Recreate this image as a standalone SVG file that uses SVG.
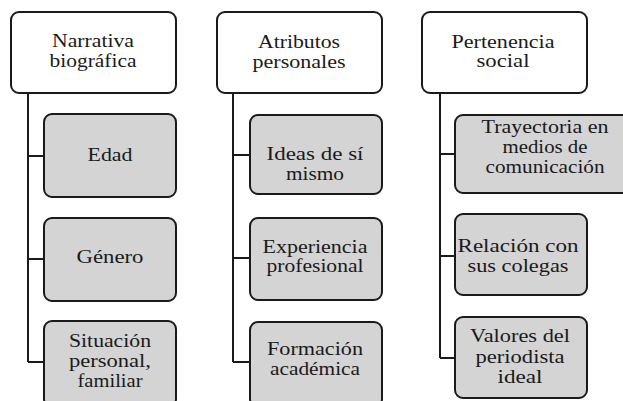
<svg xmlns="http://www.w3.org/2000/svg" width="623" height="401" viewBox="0 0 623 401" font-family="Liberation Serif, Times New Roman, Times, serif">
<style>
.hdr{fill:#ffffff;stroke:#1a1a1a;stroke-width:2}
.sub{fill:#d4d4d4;stroke:#1a1a1a;stroke-width:2}
.t{font-family:"Liberation Serif","Times New Roman",Times,serif;font-size:19px;fill:#1a1a1a;text-anchor:middle}
.c{fill:none;stroke:#1a1a1a;stroke-width:2}
</style>
<rect width="623" height="401" fill="#ffffff"/>
<g id="connectors">
<path class="c" d="M28,93 V362 M28,156 H44 M28,259 H44 M28,362 H44"/>
<path class="c" d="M233,93 V362 M233,155 H250 M233,258 H250 M233,362 H250"/>
<path class="c" d="M440,93 V358 M440,154 H455 M440,256 H455 M440,358 H455"/>
</g>
<g id="narrativa">
<rect class="hdr" x="11" y="12" width="165" height="81" rx="8"/>
<text class="t" font-family="Liberation Serif, Times New Roman, serif" x="93" y="47" textLength="82" lengthAdjust="spacingAndGlyphs">Narrativa</text>
<text class="t" x="93" y="67" textLength="87" lengthAdjust="spacingAndGlyphs">biográfica</text>
</g>
<g id="edad">
<rect class="sub" x="44" y="114" width="132" height="83" rx="8"/>
<text class="t" x="110" y="161" textLength="45" lengthAdjust="spacingAndGlyphs">Edad</text>
</g>
<g id="genero">
<rect class="sub" x="44" y="218" width="132" height="83" rx="8"/>
<text class="t" x="110" y="263" textLength="67" lengthAdjust="spacingAndGlyphs">Género</text>
</g>
<g id="situacion">
<rect class="sub" x="44" y="321" width="132" height="86" rx="8"/>
<text class="t" x="110" y="347" textLength="82" lengthAdjust="spacingAndGlyphs">Situación</text>
<text class="t" x="110" y="367" textLength="82" lengthAdjust="spacingAndGlyphs">personal,</text>
<text class="t" x="110" y="387" textLength="65" lengthAdjust="spacingAndGlyphs">familiar</text>
</g>
<g id="atributos">
<rect class="hdr" x="217" y="12" width="165" height="81" rx="8"/>
<text class="t" x="299" y="48" textLength="82" lengthAdjust="spacingAndGlyphs">Atributos</text>
<text class="t" x="299" y="68" textLength="93" lengthAdjust="spacingAndGlyphs">personales</text>
</g>
<g id="ideas">
<rect class="sub" x="250" y="115" width="132" height="79" rx="8"/>
<text class="t" x="315" y="160" textLength="97" lengthAdjust="spacingAndGlyphs">Ideas de sí</text>
<text class="t" x="315" y="180" textLength="58" lengthAdjust="spacingAndGlyphs">mismo</text>
</g>
<g id="experiencia">
<rect class="sub" x="250" y="218" width="132" height="82" rx="8"/>
<text class="t" x="315" y="253" textLength="105" lengthAdjust="spacingAndGlyphs">Experiencia</text>
<text class="t" x="315" y="272" textLength="97" lengthAdjust="spacingAndGlyphs">profesional</text>
</g>
<g id="formacion">
<rect class="sub" x="250" y="322" width="132" height="85" rx="8"/>
<text class="t" x="315" y="355" textLength="96" lengthAdjust="spacingAndGlyphs">Formación</text>
<text class="t" x="315" y="375" textLength="90" lengthAdjust="spacingAndGlyphs">académica</text>
</g>
<g id="pertenencia">
<rect class="hdr" x="422" y="12" width="165" height="81" rx="8"/>
<text class="t" x="503" y="48" textLength="103" lengthAdjust="spacingAndGlyphs">Pertenencia</text>
<text class="t" x="503" y="67" textLength="53" lengthAdjust="spacingAndGlyphs">social</text>
</g>
<g id="trayectoria">
<rect class="sub" x="455" y="115" width="180" height="78" rx="8"/>
<text class="t" x="545" y="133" textLength="127" lengthAdjust="spacingAndGlyphs">Trayectoria en</text>
<text class="t" x="545" y="153" textLength="85" lengthAdjust="spacingAndGlyphs">medios de</text>
<text class="t" x="545" y="173" textLength="119" lengthAdjust="spacingAndGlyphs">comunicación</text>
</g>
<g id="relacion">
<rect class="sub" x="455" y="214" width="132" height="81" rx="8"/>
<text class="t" x="518" y="252" textLength="121" lengthAdjust="spacingAndGlyphs">Relación con</text>
<text class="t" x="518" y="272" textLength="101" lengthAdjust="spacingAndGlyphs">sus colegas</text>
</g>
<g id="valores">
<rect class="sub" x="455" y="317" width="132" height="81" rx="8"/>
<text class="t" x="520" y="342" textLength="100" lengthAdjust="spacingAndGlyphs">Valores del</text>
<text class="t" x="520" y="363" textLength="89" lengthAdjust="spacingAndGlyphs">periodista</text>
<text class="t" x="520" y="383" textLength="45" lengthAdjust="spacingAndGlyphs">ideal</text>
</g>
</svg>
